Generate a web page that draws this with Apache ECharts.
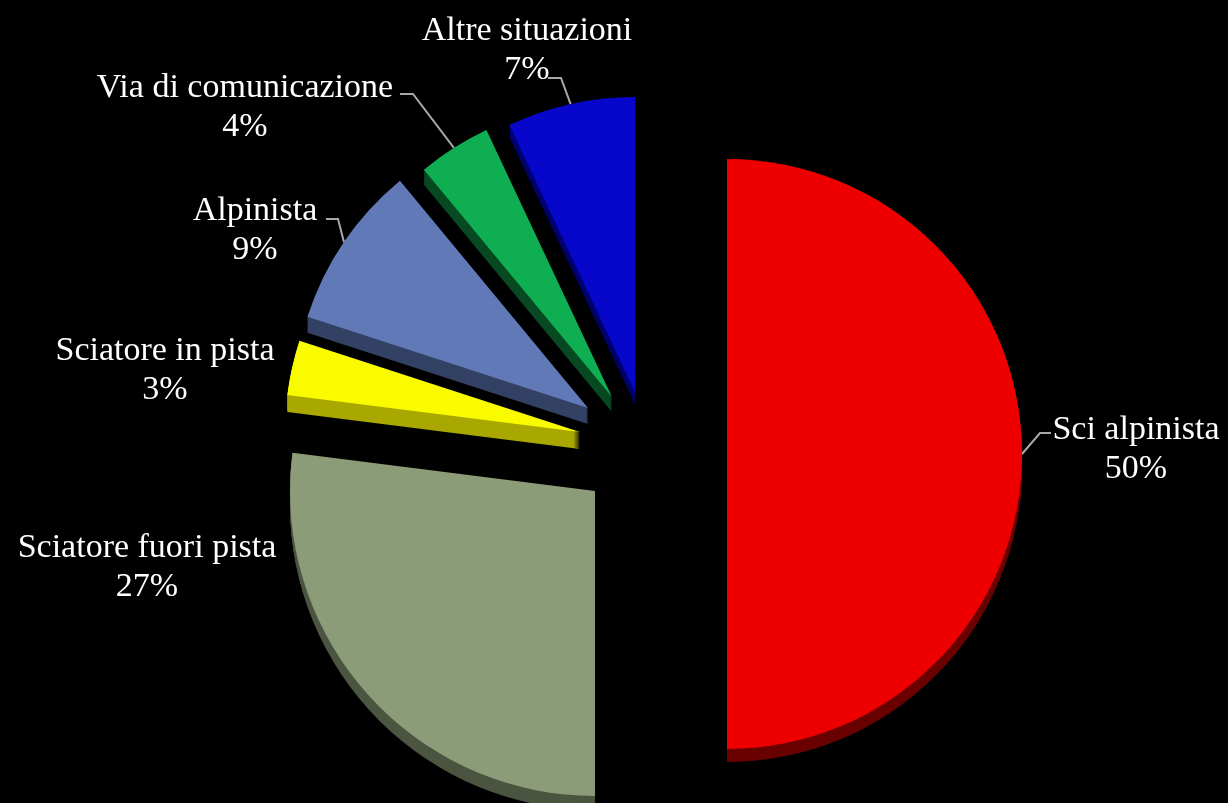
<!DOCTYPE html>
<html>
<head>
<meta charset="utf-8">
<script src="https://cdn.jsdelivr.net/npm/echarts@6/dist/echarts.min.js"></script>
<style>
html,body{margin:0;padding:0;background:#000;}
#chart{width:1228px;height:803px;}
</style>
</head>
<body>
<div id="chart"></div>
<script>
// ---- data ----
const categories = ['Sci alpinista', 'Sciatore fuori pista', 'Sciatore in pista', 'Alpinista', 'Via di comunicazione', 'Altre situazioni'];
const values = [50, 27, 3, 9, 4, 7];

// ---- styles / layout ----
const faceColors = ['#ef0000', '#8c9b78', '#fbfb00', '#6279b8', '#0fae52', '#0707cc'];
const sideColors = ['#6a0000', '#4b5540', '#a8a800', '#334264', '#074a22', '#00006e'];
const centers = [[727, 454], [595, 491], [580, 432], [588, 408], [612, 397], [635, 392]];
const radii = [295, 305, 295, 295, 295, 295];
const depths = [13, 14, 17, 16, 15, 12];
const labelPos = [[1136, 450], [147, 568], [165, 371], [255, 231], [245, 108], [527, 51]];
const showLeader = [true, false, false, true, true, true];
const leaderBend = [[1040, 433], null, null, [338, 219], [413, 94], [561, 78]];
const leaderEnd = [[1051, 433], null, null, [326, 219], [400, 94], [548, 78]];

const series = [];
function buildSeries(i, dy, isFace) {
  return {
    type: 'pie',
    radius: radii[i],
    center: [centers[i][0], centers[i][1] + dy],
    startAngle: 90,
    clockwise: true,
    animation: false,
    silent: true,
    avoidLabelOverlap: false,
    z: isFace ? 10 : 2,
    emphasis: { disabled: true },
    labelLayout: isFace ? function (p) {
      const out = { x: labelPos[i][0], y: labelPos[i][1], align: 'center', verticalAlign: 'middle' };
      if (showLeader[i] && p.labelLinePoints) {
        const start = p.labelLinePoints[0];
        out.labelLinePoints = [start, leaderBend[i], leaderEnd[i]];
      }
      return out;
    } : undefined,
    data: categories.map((name, k) => ({
      name: name,
      value: values[k],
      itemStyle: { color: k === i ? (isFace ? faceColors[i] : sideColors[i]) : 'rgba(0,0,0,0)' },
      label: {
        show: isFace && k === i,
        position: 'outside',
        formatter: '{b}\n{c}%',
        color: '#ffffff',
        fontFamily: 'Liberation Serif',
        fontSize: 34,
        lineHeight: 39,
        align: 'center'
      },
      labelLine: {
        show: isFace && k === i && showLeader[i],
        length: 12,
        length2: 12,
        lineStyle: { color: '#a8a8a8', width: 2 }
      }
    }))
  };
}

for (let i = 0; i < categories.length; i++) {
  for (let dy = depths[i]; dy > 0; dy -= 1) {
    series.push(buildSeries(i, dy, false));
  }
}
for (let i = 0; i < categories.length; i++) {
  series.push(buildSeries(i, 0, true));
}

const chart = echarts.init(document.getElementById('chart'), null, { renderer: 'canvas' });
chart.setOption({
  backgroundColor: '#000000',
  animation: false,
  series: series
});
</script>
</body>
</html>
